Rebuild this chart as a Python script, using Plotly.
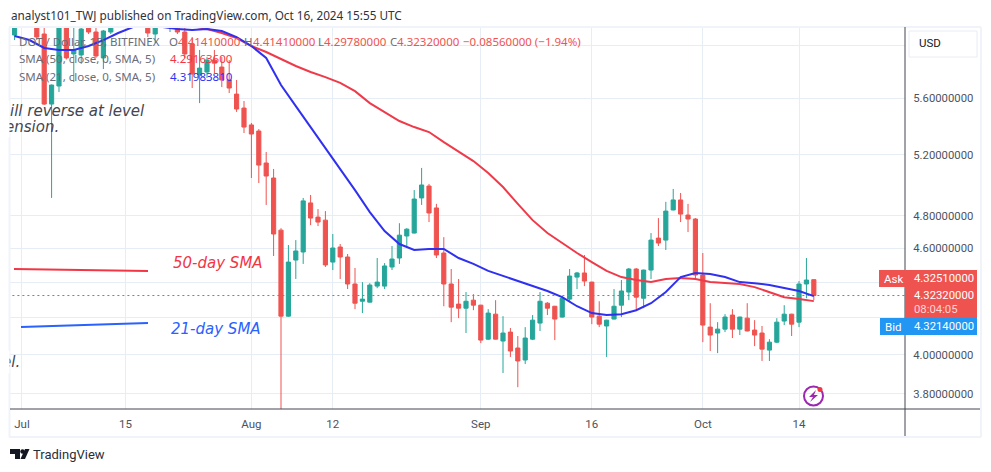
import pandas as pd
import plotly.graph_objects as go

# ---------- data ----------
start_date = "2024-06-30"
opens = [6.082,6.25,6.20,6.24,6.09,5.556,5.689,6.18,5.933,5.925,6.138,6.106,5.902,6.106,6.2,6.25,6.3,6.38,6.35,6.09,6.24,6.2,6.138,6.106,6.011,5.771,5.794,5.886,5.832,5.734,5.629,5.527,5.406,5.363,5.143,5.043,4.71,4.208,4.529,4.577,4.881,4.791,4.772,4.517,4.607,4.547,4.389,4.291,4.286,4.377,4.377,4.488,4.541,4.674,4.692,4.913,4.99,4.849,4.571,4.389,4.275,4.252,4.297,4.269,4.083,4.219,4.073,4.121,4.036,3.973,4.083,4.17,4.28,4.263,4.203,4.303,4.429,4.453,4.4,4.208,4.154,4.192,4.269,4.343,4.476,4.308,4.47,4.661,4.649,4.836,4.9,4.804,4.779,4.441,4.148,4.116,4.137,4.214,4.137,4.197,4.132,4.116,4.025,4.067,4.181,4.219,4.175,4.389,4.4141]
highs = [6.18,6.32,6.28,6.30,6.17,5.70,6.20,6.22,6.20,6.18,6.18,6.146,6.122,6.2,6.3,6.35,6.42,6.45,6.4,6.3,6.35,6.35,6.25,6.146,6.066,5.964,5.909,5.964,5.909,5.886,5.734,5.578,5.42,5.377,5.218,5.103,4.722,4.619,4.649,4.913,4.932,4.842,4.829,4.686,4.625,4.565,4.482,4.4,4.394,4.541,4.511,4.613,4.753,4.722,4.964,5.11,5.004,4.875,4.667,4.476,4.418,4.343,4.331,4.271,4.247,4.297,4.208,4.143,4.1,4.148,4.214,4.343,4.286,4.265,4.32,4.476,4.459,4.559,4.402,4.291,4.188,4.36,4.412,4.482,4.482,4.472,4.692,4.785,4.888,4.971,4.945,4.875,4.785,4.571,4.28,4.175,4.219,4.247,4.205,4.28,4.186,4.154,4.083,4.197,4.269,4.221,4.406,4.541,4.4141]
lows = [6.042,6.17,6.16,6.042,5.549,4.913,5.644,5.89,5.719,5.856,6.09,5.902,5.817,6.09,6.17,6.2,6.25,6.3,6.066,6.018,6.2,6.106,6.09,5.902,5.674,5.563,5.749,5.786,5.681,5.637,5.499,5.349,5.043,5.01,4.868,4.553,3.6,4.205,4.418,4.506,4.741,4.735,4.488,4.47,4.418,4.36,4.247,4.225,4.284,4.365,4.36,4.47,4.506,4.613,4.69,4.868,4.76,4.541,4.263,4.175,4.197,4.116,4.241,4.062,4.078,4.081,3.906,3.989,3.834,3.952,4.078,4.127,4.214,4.078,4.2,4.286,4.36,4.377,4.164,4.148,3.989,4.19,4.203,4.297,4.241,4.252,4.418,4.613,4.589,4.834,4.76,4.698,4.412,4.067,4.02,4.009,4.121,4.089,4.105,4.125,4.046,3.968,3.968,4.062,4.159,4.1,4.148,4.308,4.2978]
closes = [6.17,6.20,6.24,6.066,5.556,5.696,6.18,5.902,5.964,6.13,6.106,5.917,6.114,6.17,6.25,6.3,6.38,6.35,6.098,6.24,6.3,6.3,6.106,5.933,5.779,5.824,5.886,5.862,5.734,5.674,5.52,5.391,5.342,5.129,5.056,4.686,4.208,4.517,4.583,4.894,4.785,4.76,4.5,4.601,4.547,4.389,4.28,4.303,4.383,4.4,4.494,4.535,4.679,4.716,4.906,4.997,4.817,4.559,4.389,4.258,4.252,4.291,4.269,4.078,4.225,4.083,4.116,4.02,3.968,4.089,4.186,4.291,4.252,4.192,4.308,4.435,4.453,4.406,4.203,4.164,4.186,4.263,4.349,4.476,4.314,4.47,4.649,4.631,4.829,4.9,4.81,4.779,4.441,4.159,4.105,4.137,4.203,4.137,4.203,4.127,4.105,4.03,4.067,4.175,4.219,4.164,4.389,4.412,4.3232]

sma21 = [6.074,6.042,5.98,5.964,5.964,5.995,6.042,6.098,6.146,6.146,6.146,6.13,6.122,6.13,6.114,6.066,5.995,5.902,5.696,5.541,5.391,5.245,5.11,4.964,4.823,4.704,4.625,4.589,4.595,4.595,4.541,4.506,4.465,4.435,4.406,4.377,4.349,4.314,4.263,4.225,4.214,4.219,4.241,4.28,4.343,4.429,4.453,4.447,4.429,4.4,4.394,4.383,4.365,4.349,4.3198]
sma21_dates = pd.date_range("2024-06-30", periods=len(sma21), freq="2D")
sma50 = [6.154,6.13,6.098,6.058,5.995,5.948,5.894,5.84,5.794,5.756,5.712,5.651,5.563,5.499,5.434,5.391,5.356,5.286,5.218,5.156,5.076,4.984,4.875,4.772,4.692,4.631,4.571,4.517,4.465,4.429,4.412,4.4,4.418,4.423,4.418,4.4,4.394,4.389,4.371,4.343,4.314,4.303,4.2916]
sma50_dates = pd.date_range("2024-07-24", periods=len(sma50), freq="2D")

last_price = 4.3232
price_ticks = [6.0, 5.6, 5.2, 4.8, 4.6, 4.4, 4.2, 4.0, 3.8]
price_labels = ["", "5.60000000", "5.20000000", "4.80000000", "4.60000000", "", "", "4.00000000", "3.80000000"]
time_ticks = ["2024-07-01", "2024-07-15", "2024-08-01", "2024-08-12", "2024-09-01", "2024-09-16", "2024-10-01", "2024-10-14"]
time_labels = ["Jul", "15", "Aug", "12", "Sep", "16", "Oct", "14"]

# ---------- layout helpers ----------
L, R, T, B = 10, 905, 27, 409
W, H = 991, 472
def px(x): return (x - L) / (R - L)
def py(y): return (B - y) / (B - T)

RED, GREEN = "#ef5350", "#26a69a"
LINE_RED, LINE_BLUE = "#ef3a4a", "#3030f0"
GRID = "#e6edf4"
FRAME = "#f0f3fa"
AXIS = "#434651"
FONT = "Roboto"

dates = pd.date_range(start_date, periods=len(opens), freq="D")

fig = go.Figure()
fig.add_trace(go.Candlestick(
    x=dates, open=opens, high=highs, low=lows, close=closes,
    increasing=dict(line=dict(color=GREEN, width=1), fillcolor=GREEN),
    decreasing=dict(line=dict(color=RED, width=1), fillcolor=RED),
    whiskerwidth=0, showlegend=False))
fig.add_trace(go.Scatter(x=[dates[0] - pd.Timedelta(days=3), dates[-1] + pd.Timedelta(days=20)],
                         y=[last_price, last_price], mode="lines",
                         line=dict(color=RED, width=1, dash="2px,3px"), showlegend=False))
fig.add_trace(go.Scatter(x=sma50_dates, y=sma50, mode="lines",
                         line=dict(color=LINE_RED, width=2), showlegend=False))
fig.add_trace(go.Scatter(x=sma21_dates, y=sma21, mode="lines",
                         line=dict(color=LINE_BLUE, width=2), showlegend=False))

shapes = []
def rect(x0, y0, x1, y1, fill=None, line=None, lw=0):
    shapes.append(dict(type="rect", xref="paper", yref="paper", x0=px(x0), x1=px(x1), y0=py(y0), y1=py(y1),
                       fillcolor=fill or "rgba(0,0,0,0)", line=dict(color=line or "rgba(0,0,0,0)", width=lw), layer="above"))
def seg(x0, y0, x1, y1, color, lw):
    shapes.append(dict(type="line", xref="paper", yref="paper", x0=px(x0), x1=px(x1), y0=py(y0), y1=py(y1),
                       line=dict(color=color, width=lw), layer="above"))
def path(points, fill):
    d = "M " + " L ".join(f"{px(a):.5f},{py(b):.5f}" for a, b in points) + " Z"
    shapes.append(dict(type="path", xref="paper", yref="paper", path=d, fillcolor=fill, line=dict(width=0), layer="above"))
def circle(cx, cy, r, fill=None, line=None, lw=0):
    shapes.append(dict(type="circle", xref="paper", yref="paper", x0=px(cx - r), x1=px(cx + r), y0=py(cy + r), y1=py(cy - r),
                       fillcolor=fill or "rgba(0,0,0,0)", line=dict(color=line or "rgba(0,0,0,0)", width=lw), layer="above"))

# outer frame, axis lines
seg(9.5, 27, 9.5, 437, FRAME, 2)
seg(9, 27, 981, 27, FRAME, 2)
seg(9, 437, 981, 437, FRAME, 2)
seg(981, 27, 981, 437, FRAME, 2)
seg(905, 27, 905, 436, AXIS, 1)
seg(10, 409, 980, 409, AXIS, 1)

# hand drawn SMA call-outs
seg(14, 269, 148, 271, "#f23645", 2)
seg(21, 327, 148, 323, "#2962ff", 2)

# price boxes
rect(879, 270, 905, 287, RED)
rect(905, 270, 977, 318, RED)
rect(880, 318, 977, 335, "#2196f3")

# USD box
rect(909, 31, 977, 57, "white", "#e8ecf3", 1)

# purple icon
circle(813.5, 396, 9.5, None, "#9c27b0", 2)
path([(816, 390), (809, 397), (813, 397), (810, 402), (818, 395), (814, 395)], "#9c27b0")
circle(820, 389.5, 2.5, "#f23645")

# logo
path([(10, 449), (20, 449), (20, 459), (15, 459), (15, 454), (10, 454)], "#131722")
circle(22.5, 451.5, 2.2, "#131722")
path([(25, 449), (29.5, 449), (25, 459), (20.5, 459)], "#131722")

notes = []
def text(x, y, s, color="#4c525e", size=11.5, anchor="left", italic=False, family=FONT):
    notes.append(dict(xref="paper", yref="paper", x=px(x), y=py(y), text=s, showarrow=False,
                      xanchor=anchor, yanchor="middle", align=anchor, borderpad=0,
                      font=dict(family=family, size=size, color=color, style="italic" if italic else "normal")))
def mask(y, h):
    notes.append(dict(xref="paper", yref="paper", x=px(0), y=py(y), text=" ", showarrow=False,
                      xanchor="left", yanchor="middle", width=8, height=h, bgcolor="white", borderpad=0))

TOP = "DejaVu Sans"
NS = "Noto Sans"
text(10, 15, "analyst101_TWJ published on TradingView.com, Oct 16, 2024 15:55 UTC", "#2f323b", 11.75, family=NS)
text(18, 41.5, "DOT / Dollar, 1D, BITFINEX", "#6a6d78", 11.5, family=NS)
text(168, 41.5, "O", "#6a6d78", 11.5, family=NS)
text(177, 41.5, "4.41410000", RED, 11.5, family=NS)
text(243, 41.5, "H", "#6a6d78", 11.5, family=NS)
text(252, 41.5, "4.41410000", RED, 11.5, family=NS)
text(317, 41.5, "L", "#6a6d78", 11.5, family=NS)
text(323, 41.5, "4.29780000", RED, 11.5, family=NS)
text(389, 41.5, "C", "#6a6d78", 11.5, family=NS)
text(396, 41.5, "4.32320000", RED, 11.5, family=NS)
text(462, 41.5, "−0.08560000 (−1.94%)", RED, 11.5, family=NS)
text(18, 59, "SMA (50, close, 0, SMA, 5)", "#6a6d78", 11.5, family=NS)
text(169, 59, "4.29163600", "#f23645", 11.5, family=NS)
text(18, 76, "SMA (21, close, 0, SMA, 5)", "#6a6d78", 11.5, family=NS)
text(169, 76, "4.31983810", "#3030f0", 11.5, family=NS)

text(8.5, 111, "ill reverse at level", "#434651", 15, italic=True, family=TOP)
text(4, 127, "ension.", "#434651", 15, italic=True, family=TOP)
text(1, 362, "el.", "#434651", 15, italic=True, family=TOP)
mask(119, 36)
mask(362, 22)
text(172, 263, "50-day SMA", "#f23645", 15, italic=True, family=TOP)
text(170, 329, "21-day SMA", "#2962ff", 15, italic=True, family=TOP)

text(918, 43.5, "USD", "#131722", 11.5)
text(883, 278.5, "Ask", "white", 11.5)
text(913.5, 278.5, "4.32510000", "white", 11.3)
text(913.5, 295.5, "4.32320000", "white", 11.3)
text(913.5, 309.5, "08:04:05", "#fcd5d4", 11.3)
text(884, 326.5, "Bid", "white", 11.5)
text(913.5, 326.5, "4.32140000", "white", 11.3)
text(32, 454, "TradingView", "#2a2e39", 13)

fig.update_layout(
    width=W, height=H, margin=dict(l=L, r=W - R, t=T, b=H - B, autoexpand=False),
    paper_bgcolor="white", plot_bgcolor="white", shapes=shapes, annotations=notes,
    font=dict(family=FONT, size=11.5, color="#4c525e"), showlegend=False,
    boxgap=0.25, boxgroupgap=0.25,
    xaxis=dict(type="date", range=["2024-06-29 09:07", "2024-10-28 07:41"], rangeslider=dict(visible=False),
               tickmode="array", tickvals=time_ticks, ticktext=time_labels, ticks="outside", ticklen=4,
               tickcolor="rgba(0,0,0,0)", gridcolor=GRID, gridwidth=1, showline=False, zeroline=False,
               tickfont=dict(family=FONT, size=11.5, color="#4c525e")),
    yaxis=dict(type="log", side="right", range=[0.57124, 0.78861],
               tickmode="array", tickvals=price_ticks, ticktext=price_labels, ticks="outside", ticklen=5,
               tickcolor="rgba(0,0,0,0)", gridcolor=GRID, gridwidth=1, showline=False, zeroline=False,
               tickfont=dict(family=FONT, size=11.3, color="#4c525e")),
)
fig.write_html("out.html", config=dict(displayModeBar=False),
               post_script="document.body.style.margin='0';")
